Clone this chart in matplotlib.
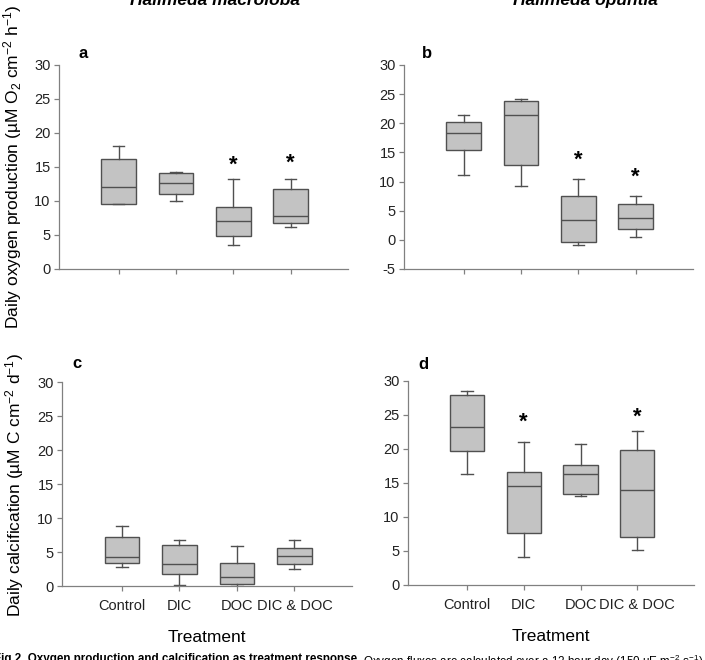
import matplotlib
matplotlib.use('Agg')
import matplotlib.pyplot as plt

plt.rcParams['font.family'] = ['Liberation Sans', 'DejaVu Sans']
plt.rcParams['mathtext.fontset'] = 'custom'
plt.rcParams['mathtext.rm'] = 'Liberation Sans'
plt.rcParams['mathtext.default'] = 'regular'
plt.rcParams['axes.unicode_minus'] = False

treatments = ['Control', 'DIC', 'DOC', 'DIC & DOC']

# a - Halimeda macroloba, oxygen production
a_low = [9.5, 10.0, 3.6, 6.2]
a_q1 = [9.6, 11.0, 4.9, 6.8]
a_med = [12.0, 12.6, 7.0, 7.75]
a_q3 = [16.2, 14.1, 9.1, 11.7]
a_high = [18.1, 14.2, 13.2, 13.3]
a_star_idx = [2, 3]
a_star_y = [16.3, 16.6]

# b - Halimeda opuntia, oxygen production
b_low = [11.1, 9.2, -0.9, 0.45]
b_q1 = [15.4, 12.9, -0.4, 1.9]
b_med = [18.4, 21.5, 3.4, 3.75]
b_q3 = [20.2, 23.9, 7.5, 6.1]
b_high = [21.5, 24.2, 10.4, 7.6]
b_star_idx = [2, 3]
b_star_y = [14.8, 12.0]

# c - Halimeda macroloba, calcification
c_low = [2.8, 0.1, 0.0, 2.45]
c_q1 = [3.4, 1.8, 0.25, 3.3]
c_med = [4.2, 3.2, 1.3, 4.4]
c_q3 = [7.2, 6.1, 3.4, 5.6]
c_high = [8.8, 6.8, 5.9, 6.7]
c_star_idx = []
c_star_y = []

# d - Halimeda opuntia, calcification
d_low = [16.3, 4.1, 13.1, 5.1]
d_q1 = [19.75, 7.6, 13.4, 7.1]
d_med = [23.3, 14.5, 16.3, 14.0]
d_q3 = [28.0, 16.6, 17.6, 19.9]
d_high = [28.6, 21.1, 20.7, 22.6]
d_star_idx = [1, 3]
d_star_y = [25.0, 25.7]

W, H = 705, 660
fig = plt.figure(figsize=(W / 100, H / 100), dpi=100)


def px_axes(left, top, right, bottom):
    return fig.add_axes([left / W, 1 - bottom / H, (right - left) / W, (bottom - top) / H])


def draw_panel(ax, low, q1, med, q3, high, star_idx, star_y, ylim, yticks, xlabels):
    stats = []
    for i in range(len(treatments)):
        stats.append({'whislo': low[i], 'q1': q1[i], 'med': med[i],
                      'q3': q3[i], 'whishi': high[i], 'fliers': []})
    pos = list(range(1, len(treatments) + 1))
    edge = '#505050'
    ax.bxp(stats, positions=pos, widths=0.6, capwidths=0.2, patch_artist=True,
           showfliers=False,
           boxprops=dict(facecolor='#c3c3c3', edgecolor=edge, linewidth=1.0),
           medianprops=dict(color=edge, linewidth=1.0),
           whiskerprops=dict(color=edge, linewidth=1.0),
           capprops=dict(color=edge, linewidth=1.0))
    for i, y in zip(star_idx, star_y):
        ax.annotate('*', xy=(pos[i], y), xytext=(0, -9), textcoords='offset points',
                    ha='center', va='baseline', fontsize=16, fontweight='bold')
    ax.set_xlim(-0.04, 5.0)
    ax.set_ylim(*ylim)
    ax.set_yticks(yticks)
    ax.set_xticks(pos)
    if xlabels:
        ax.set_xticklabels(treatments)
        ax.set_xlabel('Treatment', fontsize=12.5, labelpad=12)
    else:
        ax.set_xticklabels([])
    for s in ['top', 'right']:
        ax.spines[s].set_visible(False)
    for s in ['left', 'bottom']:
        ax.spines[s].set_color('#808080')
        ax.spines[s].set_linewidth(0.9)
    ax.tick_params(axis='both', direction='out', length=3.5, width=0.9,
                   color='#808080', labelcolor='#222222', labelsize=10.5)
    ax.tick_params(axis='x', pad=6)
    ax.tick_params(axis='y', pad=2.5)


ax_a = px_axes(59, 65, 348, 269)
ax_b = px_axes(404, 65, 693, 269)
ax_c = px_axes(62, 382, 352, 586)
ax_d = px_axes(408, 381, 694, 585)

draw_panel(ax_a, a_low, a_q1, a_med, a_q3, a_high, a_star_idx, a_star_y,
           (0, 30), range(0, 31, 5), False)
draw_panel(ax_b, b_low, b_q1, b_med, b_q3, b_high, b_star_idx, b_star_y,
           (-5, 30), range(-5, 31, 5), False)
draw_panel(ax_c, c_low, c_q1, c_med, c_q3, c_high, c_star_idx, c_star_y,
           (0, 30), range(0, 31, 5), True)
draw_panel(ax_d, d_low, d_q1, d_med, d_q3, d_high, d_star_idx, d_star_y,
           (0, 30), range(0, 31, 5), True)

# panel letters
for letter, (x, y) in zip('abcd', [(83, 53), (427, 53), (77, 364), (423, 365)]):
    fig.text(x / W, 1 - y / H, letter, ha='center', va='center',
             fontsize=12, fontweight='bold')

# species titles (cut off at the top of the figure, as in the source)
fig.text(215 / W, 1 - 5 / H, 'Halimeda macroloba', ha='center', va='baseline',
         fontsize=12.5, fontweight='bold', style='italic')
fig.text(585 / W, 1 - 5 / H, 'Halimeda opuntia', ha='center', va='baseline',
         fontsize=12.5, fontweight='bold', style='italic')

# y labels
fig.text(13 / W, 1 - 167 / H, 'Daily oxygen production (µM O$_2$ cm$^{-2}$ h$^{-1}$)',
         rotation=90, ha='center', va='center', fontsize=12.5)
fig.text(15 / W, 1 - 485 / H, 'Daily calcification (µM C cm$^{-2}$ d$^{-1}$)',
         rotation=90, ha='center', va='center', fontsize=12.5)

# caption (cut off at the bottom)
fig.text(-6 / W, 1 - 653 / H,
         'Fig 2. Oxygen production and calcification as treatment response.',
         ha='left', va='top', fontsize=8.4, fontweight='bold')
fig.text(363 / W, 1 - 653 / H,
         'Oxygen fluxes are calculated over a 12 hour day (150 µE m$^{-2}$ s$^{-1}$) a',
         ha='left', va='top', fontsize=8.4)

fig.savefig('out.png', dpi=100)
